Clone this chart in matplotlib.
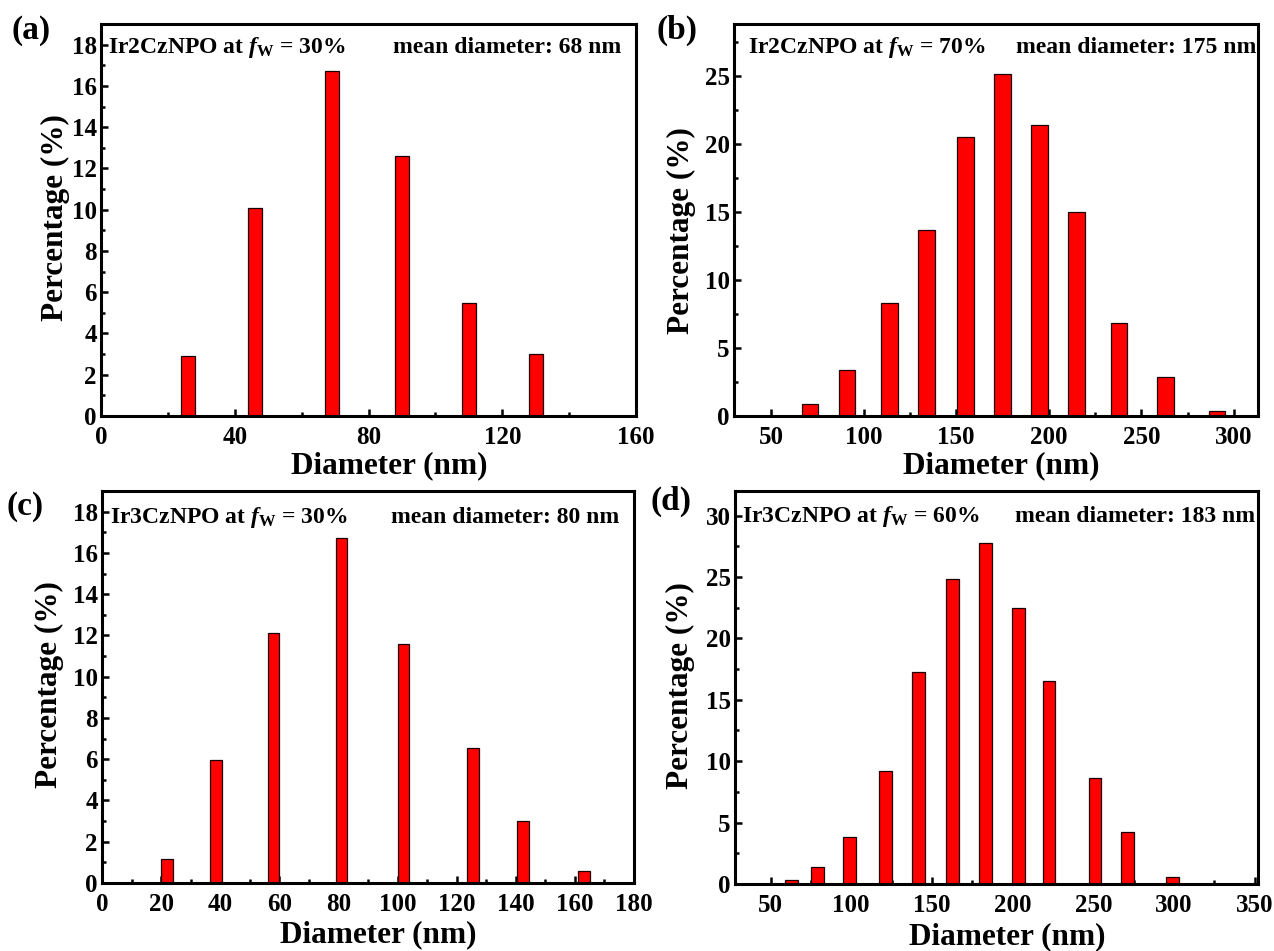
import numpy as np
import matplotlib
matplotlib.use("Agg")
import matplotlib.pyplot as plt
from matplotlib.ticker import MultipleLocator

plt.rcParams['font.family'] = ['Liberation Serif', 'DejaVu Serif']
plt.rcParams['font.weight'] = 'bold'
plt.rcParams['mathtext.fontset'] = 'custom'
plt.rcParams['mathtext.rm'] = 'Liberation Serif:bold'
plt.rcParams['mathtext.it'] = 'Liberation Serif:bold:italic'

# size distributions (diameter in nm, percentage)
d_a = [26, 46, 69, 90, 110, 130]
p_a = [2.9, 10.1, 16.7, 12.6, 5.5, 3.0]

d_b = [71, 91, 114, 134, 155, 175, 195, 215, 238, 263, 291]
p_b = [0.85, 3.35, 8.35, 13.7, 20.5, 25.2, 21.4, 15.0, 6.85, 2.85, 0.4]

d_c = [22, 38.5, 58, 81, 102, 125.5, 142.5, 163]
p_c = [1.15, 5.95, 12.1, 16.7, 11.6, 6.55, 3.0, 0.6]

d_d = [63, 79, 99, 121.5, 141.5, 163, 183, 203.5, 222.5, 251, 271, 299]
p_d = [0.3, 1.4, 3.8, 9.2, 17.3, 24.8, 27.8, 22.5, 16.5, 8.6, 4.25, 0.55]

samples = ['Ir2CzNPO', 'Ir2CzNPO', 'Ir3CzNPO', 'Ir3CzNPO']
fw = ['30%', '70%', '30%', '60%']
means = [68, 175, 80, 183]
letters = ['(a)', '(b)', '(c)', '(d)']

W, H = 1274, 951
fig = plt.figure(figsize=(W/100, H/100), dpi=100)

# pixel boxes of the four panels: left, right, top, bottom
boxes = [(101, 636, 24, 416), (734, 1258, 24, 416),
         (102, 634, 491, 883), (735, 1258, 491, 884)]

panels = [
    dict(x=d_a, y=p_a, w=4.2, xlim=(0, 160), ylim=(0, 19), xmaj=40, xmin=20, ymaj=2, ymin=1),
    dict(x=d_b, y=p_b, w=8.8, xlim=(30, 313), ylim=(0, 28.85), xmaj=50, xmin=25, ymaj=5, ymin=2.5),
    dict(x=d_c, y=p_c, w=3.9, xlim=(0, 180), ylim=(0, 19), xmaj=20, xmin=10, ymaj=2, ymin=1),
    dict(x=d_d, y=p_d, w=8.0, xlim=(28, 352), ylim=(0, 32), xmaj=50, xmin=25, ymaj=5, ymin=2.5),
]

# label placement in axes fractions
ylab_pos = [(-0.086, 0.506), (-0.100, 0.474), (-0.099, 0.505), (-0.105, 0.505)]
xlab_pos = [(0.538, -0.128), (0.510, -0.128), (0.520, -0.133), (0.520, -0.135)]
left_txt = [(0.014, 0.926), (0.026, 0.926), (0.015, 0.918), (0.013, 0.920)]
right_txt = [(0.972, 0.926), (0.997, 0.926), (0.973, 0.918), (0.995, 0.920)]
letter_px = [(12, 31), (656, 30), (7, 507), (651, 501)]

for i, (box, p) in enumerate(zip(boxes, panels)):
    l, r, t, b = box
    ax = fig.add_axes([l/W, 1 - b/H, (r - l)/W, (b - t)/H])
    ax.bar(p['x'], p['y'], width=p['w'], color='#ff0000',
           edgecolor='#1a0000', linewidth=0.9, zorder=2)
    ax.set_xlim(*p['xlim'])
    ax.set_ylim(*p['ylim'])
    ax.xaxis.set_major_locator(MultipleLocator(p['xmaj']))
    ax.xaxis.set_minor_locator(MultipleLocator(p['xmin']))
    ax.yaxis.set_major_locator(MultipleLocator(p['ymaj']))
    ax.yaxis.set_minor_locator(MultipleLocator(p['ymin']))
    ax.tick_params(which='both', direction='in', width=1.8, top=False, right=False,
                   labelsize=18)
    ax.tick_params(which='major', length=5)
    ax.tick_params(which='minor', length=3)
    ax.tick_params(axis='x', pad=7)
    ax.tick_params(axis='y', pad=3)
    for s in ax.spines.values():
        s.set_linewidth(2.2)

    ax.set_xlabel('Diameter (nm)', fontsize=22.5, fontweight='bold')
    ax.xaxis.label.set_va('center')
    ax.xaxis.set_label_coords(*xlab_pos[i])
    ax.set_ylabel('Percentage (%)', fontsize=22.5, fontweight='bold')
    ax.yaxis.label.set_va('center')
    ax.yaxis.set_label_coords(*ylab_pos[i])

    ax.text(*left_txt[i], samples[i] + r' at $f_{\rm W}$ = ' + fw[i],
            transform=ax.transAxes, ha='left', va='baseline', fontsize=17, fontweight='bold')
    ax.text(*right_txt[i], 'mean diameter: %d nm' % means[i],
            transform=ax.transAxes, ha='right', va='baseline', fontsize=17, fontweight='bold')

    fig.text(letter_px[i][0]/W, 1 - letter_px[i][1]/H, letters[i],
             ha='left', va='center', fontsize=24, fontweight='bold')

fig.savefig('out.png', dpi=100)
